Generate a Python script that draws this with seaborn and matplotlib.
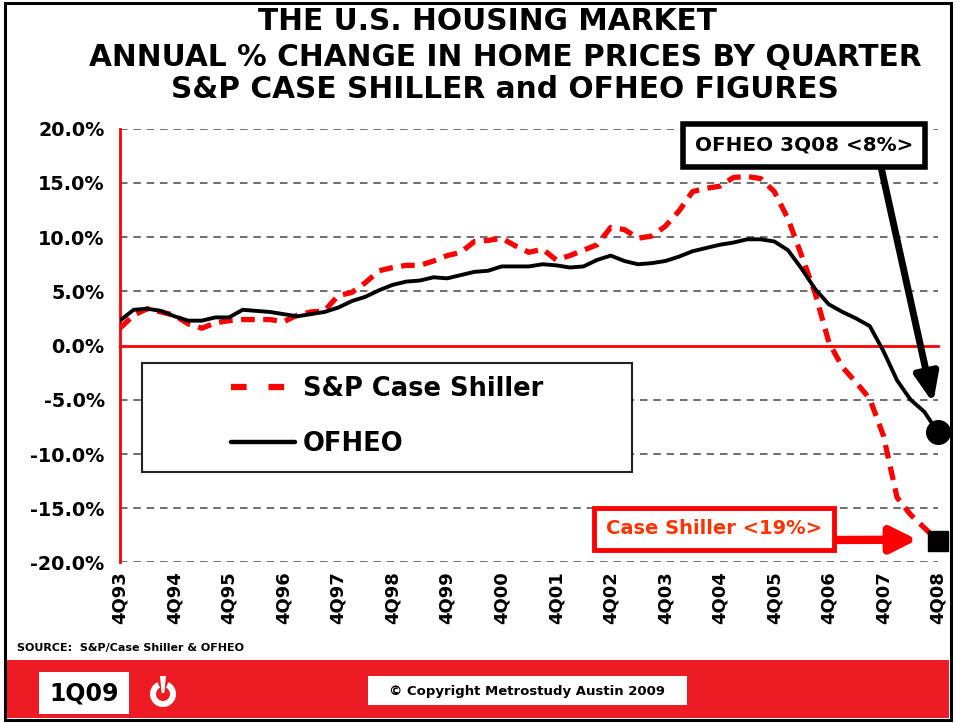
import numpy as np
import pandas as pd
import matplotlib

matplotlib.use("Agg")
import matplotlib.pyplot as plt
import seaborn as sns
from matplotlib.patches import Rectangle, Wedge, Polygon
from matplotlib.lines import Line2D
from matplotlib.ticker import StrMethodFormatter

# ── data (annual % change, quarterly 4Q93 .. 4Q08) ─────────────────────────
quarter_idx = list(range(61))
year_labels = ["4Q93", "4Q94", "4Q95", "4Q96", "4Q97", "4Q98", "4Q99", "4Q00",
               "4Q01", "4Q02", "4Q03", "4Q04", "4Q05", "4Q06", "4Q07", "4Q08"]

case_shiller = [1.6, 2.8, 3.4, 3.1, 2.8, 2.0, 1.6, 2.1, 2.3, 2.4, 2.4, 2.4, 2.2,
                2.8, 3.1, 3.2, 4.6, 4.9, 5.8, 6.9, 7.2, 7.4, 7.4, 7.8, 8.3, 8.6,
                9.6, 9.7, 9.9, 9.2, 8.6, 8.9, 7.9, 8.3, 8.8, 9.3, 10.9, 10.7,
                9.9, 10.1, 11.0, 12.4, 14.2, 14.5, 14.7, 15.5, 15.6, 15.4, 14.2,
                11.7, 8.3, 4.8, 0.3, -2.0, -3.4, -4.9, -8.3, -14.0, -15.6,
                -16.8, -18.0]

ofheo = [2.3, 3.3, 3.4, 3.2, 2.7, 2.3, 2.3, 2.6, 2.6, 3.3, 3.2, 3.1, 2.9, 2.7,
         2.9, 3.1, 3.5, 4.1, 4.5, 5.1, 5.6, 5.9, 6.0, 6.3, 6.2, 6.5, 6.8, 6.9,
         7.3, 7.3, 7.3, 7.5, 7.4, 7.2, 7.3, 7.9, 8.3, 7.8, 7.5, 7.6, 7.8, 8.2,
         8.7, 9.0, 9.3, 9.5, 9.8, 9.8, 9.6, 8.8, 7.1, 5.2, 3.8, 3.1, 2.5, 1.8,
         -0.5, -3.2, -5.0, -6.1, -8.0]

y_ticks = [-20, -15, -10, -5, 0, 5, 10, 15, 20]

RED = "#FF0000"
BAND_RED = "#ED1C24"

sns.set_style("white")
plt.rcParams["font.family"] = ["DejaVu Sans"]
plt.rcParams["font.weight"] = "bold"
plt.rcParams["text.color"] = "black"
plt.rcParams["xtick.labelcolor"] = "black"
plt.rcParams["ytick.labelcolor"] = "black"
plt.rcParams["axes.unicode_minus"] = False

fig = plt.figure(figsize=(9.56, 7.23), dpi=100)

# background layer in pixel coords (border, footer)
bg = fig.add_axes([0, 0, 1, 1], zorder=0)
bg.set_xlim(0, 956)
bg.set_ylim(723, 0)
bg.axis("off")
bg.add_patch(Rectangle((5, 3), 946, 717, fill=False, ec="black", lw=2.2))
bg.add_patch(Rectangle((7, 660), 942, 58, fc=BAND_RED, ec="none"))
bg.add_patch(Rectangle((39, 672), 90, 42, fc="white", ec="none"))
bg.text(84, 694, "1Q09", ha="center", va="center", fontsize=17, fontweight="bold")
bg.add_patch(Wedge((163, 694), 13, 295, 245, width=6, fc="white", ec="none"))
bg.add_patch(Polygon([(160, 676), (166, 676), (164.3, 693), (161.7, 693)],
                     closed=True, fc="white", ec="none"))
bg.add_patch(Rectangle((368, 676), 319, 29, fc="white", ec="none"))
bg.text(527, 691, "\u00a9 Copyright Metrostudy Austin 2009", ha="center",
        va="center", fontsize=9.5, fontweight="bold")
bg.text(17, 648, "SOURCE:  S&P/Case Shiller & OFHEO", ha="left", va="center",
        fontsize=8, fontweight="bold")

# title
bg.text(487, 22, "THE U.S. HOUSING MARKET", ha="center", va="center",
        fontsize=21.3, fontweight="bold")
bg.text(505, 57, "ANNUAL % CHANGE IN HOME PRICES BY QUARTER", ha="center",
        va="center", fontsize=21.3, fontweight="bold")
bg.text(505, 90, "S&P CASE SHILLER and OFHEO FIGURES", ha="center",
        va="center", fontsize=21.3, fontweight="bold")

# ── main chart ───────────────────────────────────────────────────────────
ax = fig.add_axes([0.1255, 0.222, 0.8556, 0.600], zorder=1)

df = pd.DataFrame({"q": quarter_idx, "cs": case_shiller, "of": ofheo})
sns.lineplot(data=df, x="q", y="cs", ax=ax, color=RED, lw=3.8,
             linestyle=(0, (2.6, 1.6)), zorder=4)
sns.lineplot(data=df, x="q", y="of", ax=ax, color="black", lw=2.8, zorder=5)

# end markers
ax.plot(quarter_idx[-1], ofheo[-1], "o", color="black", ms=17, clip_on=False, zorder=6)
ax.plot(quarter_idx[-1], case_shiller[-1], "s", color="black", ms=14.5,
        clip_on=False, zorder=6)

ax.set_xlim(0, 60)
ax.set_ylim(-20, 20)
ax.set_xlabel("")
ax.set_ylabel("")

ax.set_yticks(y_ticks)
ax.yaxis.set_major_formatter(StrMethodFormatter("{x:.1f}%"))
ax.tick_params(axis="y", direction="inout", length=14, width=1.5, color=RED,
               labelsize=13.8, pad=4, labelcolor="black")
for lbl in ax.get_yticklabels():
    lbl.set_fontweight("bold")

for v in y_ticks:
    if v != 0:
        ax.axhline(v, color="#555555", lw=1.2, linestyle=(0, (4.5, 3.5)), zorder=1)

for side in ["top", "right"]:
    ax.spines[side].set_visible(False)
ax.spines["left"].set_color(RED)
ax.spines["left"].set_linewidth(2)
ax.spines["bottom"].set_position(("data", 0))
ax.spines["bottom"].set_color(RED)
ax.spines["bottom"].set_linewidth(2)
ax.spines["bottom"].set_zorder(3)

ax.set_xticks(quarter_idx)
ax.tick_params(axis="x", direction="inout", length=13, width=1.5, color=RED,
               labelbottom=False)

sec = ax.secondary_xaxis("bottom")
sec.set_xticks(quarter_idx[::4], labels=year_labels)
sec.tick_params(length=0, pad=6, labelsize=13, labelcolor="black")
sec.spines["bottom"].set_visible(False)
for lbl in sec.get_xticklabels():
    lbl.set_rotation(90)
    lbl.set_fontweight("bold")
    lbl.set_va("top")

# legend: white box + frameless legend
ax.add_patch(Rectangle((0.027, 0.209), 0.599, 0.251, transform=ax.transAxes,
                       fc="white", ec="#222222", lw=1.5, zorder=2))
handles = [Line2D([], [], color=RED, lw=4.5, linestyle=(0, (2.5, 3.5))),
           Line2D([], [], color="black", lw=3.2)]
ax.legend(handles, ["S&P Case Shiller", "OFHEO"], loc="center",
          bbox_to_anchor=(0.3264, 0.337), frameon=False,
          handlelength=2.5, handletextpad=0.3, labelspacing=1.15,
          prop={"weight": "bold", "size": 18.5})

# call-outs
ax.annotate("OFHEO 3Q08 <8%>", xy=(59.65, -5.3), xycoords="data",
            xytext=(804, 723 - 145), textcoords="figure pixels",
            ha="center", va="center", fontsize=14.4, fontweight="bold",
            bbox=dict(boxstyle="square,pad=0.6", fc="white", ec="black", lw=4),
            arrowprops=dict(arrowstyle="-|>,head_length=1.2,head_width=0.5",
                            lw=5, color="black", shrinkA=0, shrinkB=0,
                            relpos=(0.84, 0)),
            zorder=7)
ax.annotate("Case Shiller <19%>", xy=(58.5, -17.9), xycoords="data",
            xytext=(714, 723 - 529), textcoords="figure pixels",
            ha="center", va="center", fontsize=14, fontweight="bold",
            color="#FF3300",
            bbox=dict(boxstyle="square,pad=0.6", fc="white", ec=RED, lw=3.5),
            arrowprops=dict(arrowstyle="-|>,head_length=1.1,head_width=0.55",
                            lw=6, color=RED, shrinkA=0, shrinkB=0,
                            relpos=(1, -0.08)),
            zorder=7)

fig.savefig("out.png", dpi=100)
